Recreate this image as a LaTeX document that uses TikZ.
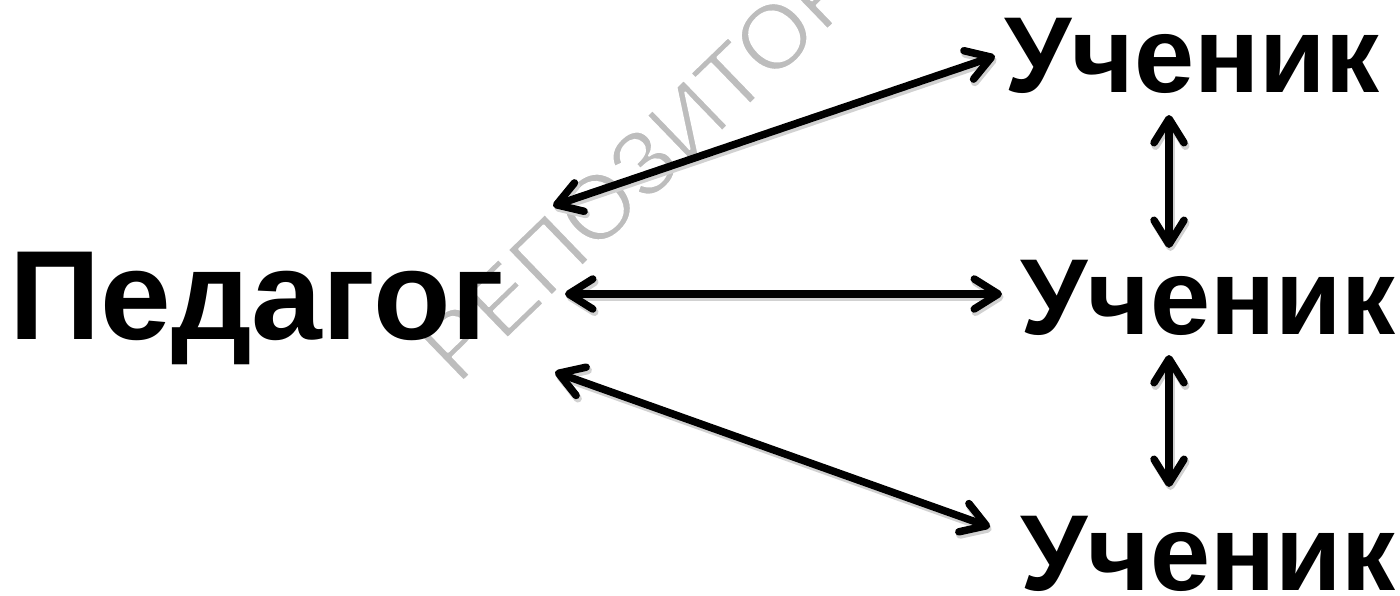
\documentclass[tikz,border=0pt]{standalone}
\usepackage{fontspec}
\setmainfont{Liberation Sans}
\usetikzlibrary{arrows.meta}
\tikzset{
  lbl/.style={inner sep=0pt, anchor=base west, text=black, font=\bfseries\fontsize{108}{108}\selectfont},
  biglbl/.style={lbl, font=\bfseries\fontsize{127}{127}\selectfont},
  wmark/.style={inner sep=0pt, anchor=base west, text=black!26, font=\fontsize{92}{92}\selectfont},
  tips/.style={{Straight Barb[length=24pt,width=30pt,line cap=round,line join=round]}-{Straight Barb[length=24pt,width=30pt,line cap=round,line join=round]}},
  conn/.style={line width=7.5pt, line cap=round, draw=black, tips,
    preaction={draw=black!18, line width=8pt, tips, transform canvas={shift={(1.5pt,-3pt)}}}},
}
\begin{document}
\begin{tikzpicture}[x=1pt,y=-1pt]
\useasboundingbox (0,0) rectangle (1400,595);
\fill[white] (0,0) rectangle (1400,595);
% watermark (thin grey letters)
\begin{scope}
\node[wmark, rotate=44] (wm) at (458,386) {\special{pdf:literal direct 2 Tr 1 j 1.8 w 1 1 1 RG}РЕПОЗИТОРИЙ\special{pdf:literal direct 0 Tr}};
\end{scope}
% labels
\node[biglbl] (ped) at (9,339) {Педагог};
\node[lbl] (u1) at (1004,92) {Ученик};
\node[lbl] (u2) at (1020,334) {Ученик};
\node[lbl] (u3) at (1020,590) {Ученик};
% connectors
\draw[conn] ([shift={(544,-133)}]ped.base west) -- ([shift={(-9,-36)}]u1.base west);
\draw[conn] ([shift={(556,-45)}]ped.base west) -- ([shift={(-18,-40)}]u2.base west);
\draw[conn] ([shift={(546,33)}]ped.base west) -- ([shift={(-30,-63)}]u3.base west);
\draw[conn] ([shift={(165,23)}]u1.base west) -- ([shift={(149,-86)}]u2.base west);
\draw[conn] ([shift={(149,21)}]u2.base west) -- ([shift={(149,-103)}]u3.base west);
\end{tikzpicture}
\end{document}
